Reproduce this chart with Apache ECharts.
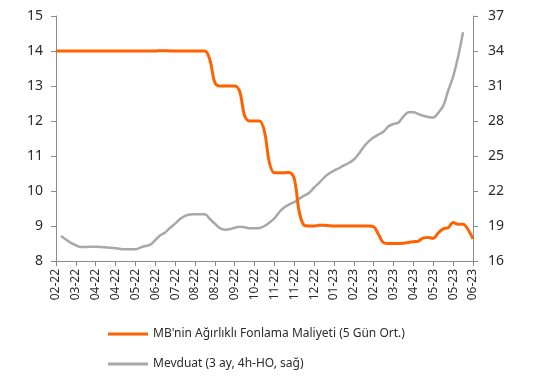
<!DOCTYPE html>
<html>
<head>
<meta charset="utf-8">
<script src="https://cdn.jsdelivr.net/npm/echarts@6/dist/echarts.min.js"></script>
<style>
  html, body { margin: 0; padding: 0; background: #fff; }
  #chart { width: 533px; height: 383px; }
</style>
</head>
<body>
<div id="chart"></div>
<script>
// Month labels on the time axis (one every tick)
const tickLabels = ['02-22','03-22','04-22','04-22','05-22','06-22','07-22','08-22','08-22','09-22','10-22',
                    '11-22','11-22','12-22','01-23','02-23','02-23','03-23','04-23','05-23','05-23','06-23'];
// Observations per tick interval
const stepsPerTick = 4;

// MB'nin Ağırlıklı Fonlama Maliyeti (5 Gün Ort.), % (left axis)
const fundingCost = [
  14.0,14.0,14.0,14.0,14.0,14.0,14.0,14.0,14.0,14.0,
  14.0,14.0,14.0,14.0,14.0,14.0,14.0,14.0,14.0,14.0,
  14.0,14.01,14.01,14.0,14.0,14.0,14.0,14.0,14.0,14.0,
  14.0,13.75,13.1,13.0,13.0,13.0,13.0,12.85,12.15,12.0,
  12.0,12.0,11.7,10.8,10.52,10.52,10.52,10.53,10.35,9.4,
  9.02,9.0,9.0,9.02,9.02,9.01,9.0,9.0,9.0,9.0,
  9.0,9.0,9.0,9.0,8.98,8.75,8.52,8.5,8.5,8.5,
  8.51,8.53,8.55,8.57,8.66,8.67,8.65,8.8,8.92,8.95,
  9.1,9.05,9.05,8.9,8.63
];

// Mevduat (3 ay, 4h-HO, sağ), % (right axis)
const depositRate = [
  null,18.15,17.85,17.55,17.35,17.2,17.2,17.23,17.22,17.2,
  17.17,17.14,17.1,17.03,17.0,17.0,17.0,17.15,17.28,17.4,
  17.8,18.2,18.45,18.85,19.2,19.6,19.86,19.98,20.0,20.0,
  20.0,19.6,19.2,18.82,18.68,18.72,18.85,18.94,18.9,18.8,
  18.8,18.82,19.0,19.3,19.65,20.2,20.6,20.85,21.05,21.35,
  21.6,21.85,22.3,22.7,23.15,23.5,23.75,23.95,24.2,24.4,
  24.7,25.2,25.8,26.25,26.6,26.85,27.1,27.55,27.75,27.87,
  28.4,28.75,28.75,28.6,28.45,28.35,28.3,28.7,29.3,30.6,
  31.8,33.5,35.6,null,null
];

const seriesNames = ["MB'nin Ağırlıklı Fonlama Maliyeti (5 Gün Ort.)", 'Mevduat (3 ay, 4h-HO, sağ)'];

const toPoints = vals => vals.map((v, i) => [i / stepsPerTick, v]);

const font = 'Noto Sans, sans-serif';
const axisGray = '#8c8c8c';
const textColor = '#2b2b2b';

const chart = echarts.init(document.getElementById('chart'), null, { renderer: 'canvas' });
chart.setOption({
  animation: false,
  backgroundColor: '#ffffff',
  grid: { left: 56, right: 60, top: 16, bottom: 122, containLabel: false },
  legend: {
    orient: 'vertical',
    left: 103,
    top: 323,
    itemWidth: 40,
    itemHeight: 3,
    itemGap: 18,
    icon: 'rect',
    textStyle: { fontFamily: font, fontSize: 12, color: textColor },
    data: seriesNames
  },
  xAxis: {
    type: 'value',
    min: 0,
    max: tickLabels.length - 1,
    interval: 1,
    splitLine: { show: false },
    axisLine: { show: true, onZero: false, lineStyle: { color: axisGray, width: 1 } },
    axisTick: { show: true, length: 5, lineStyle: { color: axisGray } },
    axisLabel: {
      rotate: 90,
      margin: 8,
      fontFamily: font,
      fontSize: 12,
      color: textColor,
      formatter: v => tickLabels[Math.round(v)] || ''
    }
  },
  yAxis: [
    {
      type: 'value',
      min: 8, max: 15, interval: 1,
      position: 'left',
      splitLine: { show: false },
      axisLine: { show: true, lineStyle: { color: axisGray } },
      axisTick: { show: true, length: 5, lineStyle: { color: axisGray } },
      axisLabel: { fontFamily: font, fontSize: 14, color: textColor, margin: 13 }
    },
    {
      type: 'value',
      min: 16, max: 37, interval: 3,
      position: 'right',
      splitLine: { show: false },
      axisLine: { show: true, lineStyle: { color: axisGray } },
      axisTick: { show: true, length: 5, lineStyle: { color: axisGray } },
      axisLabel: { fontFamily: font, fontSize: 14, color: textColor, margin: 15 }
    }
  ],
  series: [
    {
      name: seriesNames[0],
      type: 'line',
      yAxisIndex: 0,
      data: toPoints(fundingCost),
      symbol: 'none',
      smooth: 0.35,
      lineStyle: { color: '#ff6200', width: 3 },
      itemStyle: { color: '#ff6200' },
      z: 3
    },
    {
      name: seriesNames[1],
      type: 'line',
      yAxisIndex: 1,
      data: toPoints(depositRate),
      symbol: 'none',
      smooth: 0.3,
      lineStyle: { color: '#a8a8a8', width: 2.5 },
      itemStyle: { color: '#a8a8a8' },
      z: 2
    }
  ]
});
</script>
</body>
</html>
